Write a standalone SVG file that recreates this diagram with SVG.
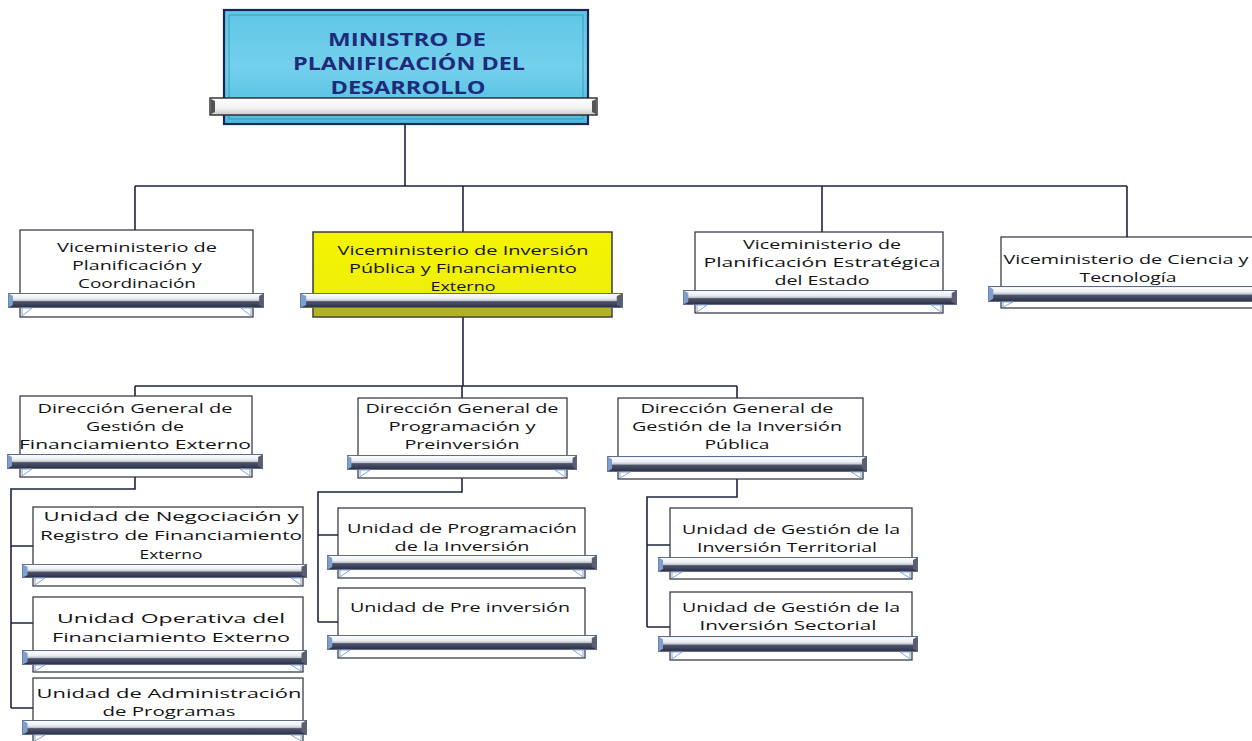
<svg xmlns="http://www.w3.org/2000/svg" xmlns:xlink="http://www.w3.org/1999/xlink" width="1252" height="741" viewBox="0 0 1252 741">
<defs>
<linearGradient id="barG" x1="0" y1="0" x2="0" y2="1">
<stop offset="0" stop-color="#ffffff"/>
<stop offset="0.35" stop-color="#eceef3"/>
<stop offset="0.5" stop-color="#c4c8d2"/>
<stop offset="0.58" stop-color="#50546a"/>
<stop offset="1" stop-color="#2c3046"/>
</linearGradient>
<linearGradient id="topBarG" x1="0" y1="0" x2="0" y2="1">
<stop offset="0" stop-color="#ffffff"/>
<stop offset="0.6" stop-color="#f2f2f2"/>
<stop offset="1" stop-color="#c8c8c8"/>
</linearGradient>
<linearGradient id="blueG" x1="0" y1="0" x2="0" y2="1">
<stop offset="0" stop-color="#5fc6e6"/>
<stop offset="0.5" stop-color="#74d0ec"/>
<stop offset="1" stop-color="#4bbbe0"/>
</linearGradient>
<linearGradient id="yellowG" x1="0" y1="0" x2="0" y2="1">
<stop offset="0" stop-color="#f4f400"/>
<stop offset="1" stop-color="#ecec10"/>
</linearGradient>
<symbol id="bar" viewBox="0 0 260 15" preserveAspectRatio="none">
<rect x="0.5" y="0.5" width="259" height="14" fill="url(#barG)" stroke="#5d6b8c" stroke-width="1"/>
<path d="M0.5 0.5 L5 3 L5 12 L0.5 14.5 Z" fill="#7f9fcc"/>
<path d="M259.5 0.5 L255 3 L255 12 L259.5 14.5 Z" fill="#5a5e70"/>
</symbol>
<style>
.box{fill:#ffffff;stroke:#2b2d3a;stroke-width:1.2}
.tri{fill:#ffffff;stroke:#7d9ccc;stroke-width:0.9}
.t{font-family:"Open Sans","Liberation Sans",sans-serif;font-size:13px;fill:#141414;text-anchor:middle}
.tt{font-family:"Open Sans","Liberation Sans",sans-serif;font-size:17.5px;font-weight:bold;fill:#1f2a78;text-anchor:middle}
.ln{fill:none;stroke:#1e2440;stroke-width:1.6}
</style>
</defs>
<rect width="1252" height="741" fill="#ffffff"/>

<g id="connectors">
<path class="ln" d="M405 124 V186 M135 186 H1127 M135 186 V230 M463 186 V232 M822 186 V232 M1127 186 V237"/>
<path class="ln" d="M463 317 V386 M135 386 H737 M135 386 V396 M462 386 V398 M737 386 V398"/>
<path class="ln" d="M135 477 V489 H11 V708 M11 546 H33 M11 623 H33 M11 708 H33"/>
<path class="ln" d="M462 478 V492 H318 V622 M318 535 H338 M318 622 H338"/>
<path class="ln" d="M737 479 V497 H647 V627 M647 545 H670 M647 627 H670"/>
</g>

<g id="ministro">
<rect x="224" y="10" width="364" height="114" fill="url(#blueG)" stroke="#1b2650" stroke-width="2.2"/>
<rect x="229" y="15" width="354" height="104" fill="none" stroke="#3a8fb0" stroke-width="0.8"/>
<rect x="210" y="98" width="387" height="17" fill="url(#topBarG)" stroke="#2a2a2a" stroke-width="1.4"/>
<path d="M211 99 L215 101 L215 112 L211 114 Z M596 99 L592 101 L592 112 L596 114 Z" fill="#555"/>
<text class="tt" x="407" y="46" textLength="158" lengthAdjust="spacingAndGlyphs">MINISTRO DE</text>
<text class="tt" x="409" y="70" textLength="232" lengthAdjust="spacingAndGlyphs">PLANIFICACIÓN DEL</text>
<text class="tt" x="408" y="94" textLength="155" lengthAdjust="spacingAndGlyphs">DESARROLLO</text>
</g>

<g id="vm-planificacion-coordinacion">
<rect class="box" x="20" y="230" width="233" height="87"/>
<use xlink:href="#bar" x="8" y="293" width="256" height="15"/>
<path class="tri" d="M22 308 H32 L22 316 Z M251 308 H241 L251 316 Z"/>
<text class="t" x="137" y="252" textLength="160" lengthAdjust="spacingAndGlyphs">Viceministerio de</text>
<text class="t" x="137" y="270" textLength="130" lengthAdjust="spacingAndGlyphs">Planificación y</text>
<text class="t" x="137" y="288" textLength="118" lengthAdjust="spacingAndGlyphs">Coordinación</text>
</g>

<g id="vm-inversion-publica">
<rect x="313" y="232" width="299" height="85" fill="url(#yellowG)" stroke="#2b2d3a" stroke-width="1.4"/>
<rect x="314" y="308" width="297" height="8" fill="#b3b126"/>
<use xlink:href="#bar" x="300" y="293" width="323" height="15"/>
<text class="t" x="463" y="255" textLength="251" lengthAdjust="spacingAndGlyphs">Viceministerio de Inversión</text>
<text class="t" x="463" y="273" textLength="228" lengthAdjust="spacingAndGlyphs">Pública y Financiamiento</text>
<text class="t" x="463" y="291" textLength="65" lengthAdjust="spacingAndGlyphs">Externo</text>
</g>

<g id="vm-planificacion-estrategica">
<rect class="box" x="695" y="232" width="248" height="81"/>
<use xlink:href="#bar" x="683" y="290" width="274" height="15"/>
<path class="tri" d="M697 305 H707 L697 312 Z M941 305 H931 L941 312 Z"/>
<text class="t" x="822" y="249" textLength="158" lengthAdjust="spacingAndGlyphs">Viceministerio de</text>
<text class="t" x="822" y="267" textLength="237" lengthAdjust="spacingAndGlyphs">Planificación Estratégica</text>
<text class="t" x="822" y="285" textLength="95" lengthAdjust="spacingAndGlyphs">del Estado</text>
</g>

<g id="vm-ciencia-tecnologia">
<rect class="box" x="1001" y="237" width="260" height="71"/>
<use xlink:href="#bar" x="988" y="286" width="275" height="16"/>
<path class="tri" d="M1003 302 H1013 L1003 307 Z"/>
<text class="t" x="1126" y="264" textLength="245" lengthAdjust="spacingAndGlyphs">Viceministerio de Ciencia y</text>
<text class="t" x="1128" y="282" textLength="97" lengthAdjust="spacingAndGlyphs">Tecnología</text>
</g>

<g id="dg-financiamiento-externo">
<rect class="box" x="20" y="396" width="232" height="81"/>
<use xlink:href="#bar" x="7" y="454" width="256" height="15"/>
<path class="tri" d="M22 469 H32 L22 476 Z M250 469 H240 L250 476 Z"/>
<text class="t" x="135" y="413" textLength="195" lengthAdjust="spacingAndGlyphs">Dirección General de</text>
<text class="t" x="135" y="431" textLength="98" lengthAdjust="spacingAndGlyphs">Gestión de</text>
<text class="t" x="135" y="449" textLength="232" lengthAdjust="spacingAndGlyphs">Financiamiento Externo</text>
</g>

<g id="dg-programacion-preinversion">
<rect class="box" x="358" y="398" width="209" height="80"/>
<use xlink:href="#bar" x="347" y="455" width="230" height="15"/>
<path class="tri" d="M360 470 H370 L360 477 Z M565 470 H555 L565 477 Z"/>
<text class="t" x="462" y="413" textLength="193" lengthAdjust="spacingAndGlyphs">Dirección General de</text>
<text class="t" x="462" y="431" textLength="147" lengthAdjust="spacingAndGlyphs">Programación y</text>
<text class="t" x="462" y="449" textLength="115" lengthAdjust="spacingAndGlyphs">Preinversión</text>
</g>

<g id="dg-inversion-publica">
<rect class="box" x="618" y="398" width="245" height="81"/>
<use xlink:href="#bar" x="607" y="456" width="260" height="16"/>
<path class="tri" d="M620 472 H630 L620 478 Z M861 472 H851 L861 478 Z"/>
<text class="t" x="737" y="413" textLength="193" lengthAdjust="spacingAndGlyphs">Dirección General de</text>
<text class="t" x="737" y="431" textLength="210" lengthAdjust="spacingAndGlyphs">Gestión de la Inversión</text>
<text class="t" x="737" y="449" textLength="65" lengthAdjust="spacingAndGlyphs">Pública</text>
</g>

<g id="u-negociacion-registro">
<rect class="box" x="33" y="507" width="270" height="79"/>
<use xlink:href="#bar" x="22" y="564" width="285" height="14"/>
<path class="tri" d="M35 578 H45 L35 585 Z M301 578 H291 L301 585 Z"/>
<text class="t" x="171" y="521" textLength="255" lengthAdjust="spacingAndGlyphs">Unidad de Negociación y</text>
<text class="t" x="171" y="540" textLength="262" lengthAdjust="spacingAndGlyphs">Registro de Financiamiento</text>
<text class="t" x="171" y="559" textLength="63" lengthAdjust="spacingAndGlyphs">Externo</text>
</g>

<g id="u-operativa">
<rect class="box" x="33" y="597" width="270" height="75"/>
<use xlink:href="#bar" x="22" y="650" width="285" height="15"/>
<path class="tri" d="M35 665 H45 L35 671 Z M301 665 H291 L301 671 Z"/>
<text class="t" x="171" y="623" textLength="228" lengthAdjust="spacingAndGlyphs">Unidad Operativa del</text>
<text class="t" x="171" y="642" textLength="238" lengthAdjust="spacingAndGlyphs">Financiamiento Externo</text>
</g>

<g id="u-administracion-programas">
<rect class="box" x="33" y="678" width="270" height="67"/>
<use xlink:href="#bar" x="22" y="720" width="285" height="15"/>
<path class="tri" d="M35 735 H45 L35 741 Z M301 735 H291 L301 741 Z"/>
<text class="t" x="169" y="698" textLength="265" lengthAdjust="spacingAndGlyphs">Unidad de Administración</text>
<text class="t" x="169" y="716" textLength="133" lengthAdjust="spacingAndGlyphs">de Programas</text>
</g>

<g id="u-programacion-inversion">
<rect class="box" x="338" y="508" width="247" height="70"/>
<use xlink:href="#bar" x="327" y="555" width="270" height="15"/>
<path class="tri" d="M340 570 H350 L340 577 Z M583 570 H573 L583 577 Z"/>
<text class="t" x="462" y="533" textLength="230" lengthAdjust="spacingAndGlyphs">Unidad de Programación</text>
<text class="t" x="462" y="551" textLength="135" lengthAdjust="spacingAndGlyphs">de la Inversión</text>
</g>

<g id="u-preinversion">
<rect class="box" x="338" y="588" width="247" height="70"/>
<use xlink:href="#bar" x="327" y="635" width="270" height="15"/>
<path class="tri" d="M340 650 H350 L340 657 Z M583 650 H573 L583 657 Z"/>
<text class="t" x="460" y="612" textLength="220" lengthAdjust="spacingAndGlyphs">Unidad de Pre inversión</text>
</g>

<g id="u-inversion-territorial">
<rect class="box" x="670" y="508" width="242" height="71"/>
<use xlink:href="#bar" x="658" y="557" width="260" height="15"/>
<path class="tri" d="M672 572 H682 L672 578 Z M910 572 H900 L910 578 Z"/>
<text class="t" x="791" y="534" textLength="218" lengthAdjust="spacingAndGlyphs">Unidad de Gestión de la</text>
<text class="t" x="787" y="552" textLength="180" lengthAdjust="spacingAndGlyphs">Inversión Territorial</text>
</g>

<g id="u-inversion-sectorial">
<rect class="box" x="670" y="592" width="242" height="68"/>
<use xlink:href="#bar" x="658" y="636" width="260" height="16"/>
<path class="tri" d="M672 652 H682 L672 659 Z M910 652 H900 L910 659 Z"/>
<text class="t" x="791" y="612" textLength="218" lengthAdjust="spacingAndGlyphs">Unidad de Gestión de la</text>
<text class="t" x="788" y="630" textLength="177" lengthAdjust="spacingAndGlyphs">Inversión Sectorial</text>
</g>
</svg>
